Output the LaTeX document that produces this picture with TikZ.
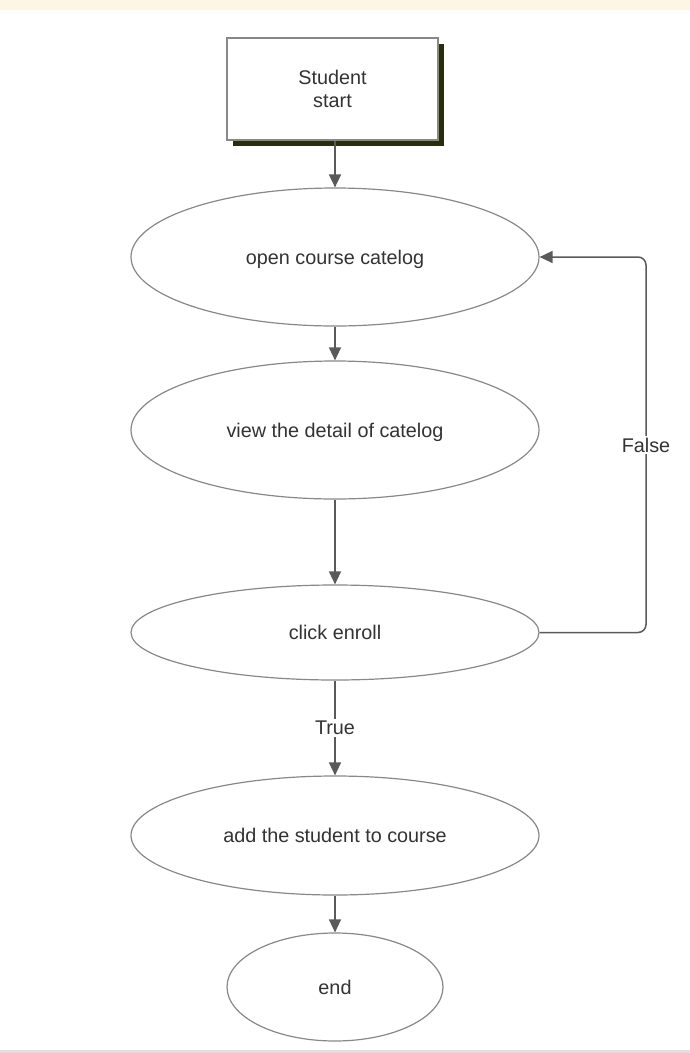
\documentclass[tikz,border=0pt]{standalone}
\usepackage{fontspec}
\setmainfont{Liberation Sans}
\usetikzlibrary{shapes.geometric,arrows.meta,shadows,positioning}
\definecolor{linegray}{HTML}{888888}
\definecolor{arrowgray}{HTML}{5A5A5A}
\definecolor{textgray}{HTML}{333333}
\definecolor{bandyellow}{HTML}{FDF6E3}
\definecolor{shadowolive}{RGB}{38,46,14}
\tikzset{
  stepnode/.style={draw=linegray, line width=1.2pt, fill=white, text=textgray,
                   font=\fontsize{19.8}{23}\selectfont, inner sep=0pt, align=center},
  startbox/.style={stepnode, rectangle, minimum width=211pt, minimum height=102pt,
                   drop shadow={shadow xshift=6pt, shadow yshift=-6pt, fill=shadowolive, opacity=1}},
  actbox/.style={stepnode, ellipse, minimum width=408pt, text depth=0pt},
  flow/.style={draw=arrowgray, line width=1.5pt, -{Triangle[length=13pt,width=12pt]}},
  flowlabel/.style={fill=white, text=textgray, font=\fontsize{19.8}{23}\selectfont, inner sep=2pt}
}
\begin{document}
\begin{tikzpicture}[x=1pt,y=-1pt]
  \useasboundingbox (0,0) rectangle (690,1053);
  % page band and footer line
  \fill[bandyellow] (0,0) rectangle (690,10);
  \fill[black!12] (0,1050) rectangle (690,1053);

  \node[startbox] (start) at (332.5,89) {Student\\start};
  \node[actbox, minimum height=138pt] (open) at (335,257) {open course catelog};
  \node[actbox, minimum height=138pt] (detail) at (335,430) {view the detail of catelog};
  \node[actbox, minimum height=95pt] (enroll) at (335,632.5) {click enroll};
  \node[actbox, minimum height=119pt] (add) at (335,835.5) {add the student to course};
  \node[actbox, minimum width=216pt, minimum height=108pt] (end) at (335,987) {end};

  \coordinate (back) at (646,445);

  \draw[flow] (start.south -| open.north) -- (open);
  \draw[flow] (open) -- (detail);
  \draw[flow] (detail) -- (enroll);
  \draw[flow] (enroll) -- node[flowlabel] {True} (add);
  \draw[flow] (add) -- (end);
  \draw[flow, rounded corners=8pt] (enroll.east) -| (back) |- (open.east);
  \node[flowlabel] (falselabel) at (back) {False};
\end{tikzpicture}
\end{document}
